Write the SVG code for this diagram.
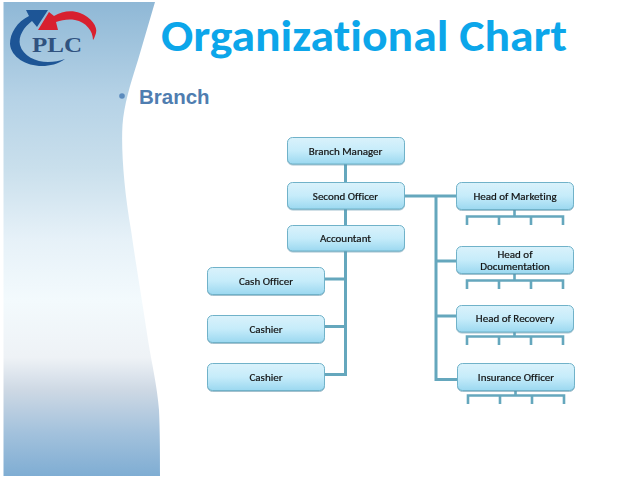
<svg xmlns="http://www.w3.org/2000/svg" width="638" height="479" viewBox="0 0 638 479">
<style>
.n{fill:url(#nf);stroke:#6fb2c9;stroke-width:1}
.t{font-family:"Carlito","Liberation Sans",sans-serif;font-size:11px;fill:#111;stroke:#111;stroke-width:.2;text-anchor:middle;font-variant-ligatures:none}
.c{fill:none;stroke:#65a7bd;stroke-width:3}
.s{fill:none;stroke:#65a7bd;stroke-width:2.6}
</style>
<defs>
<linearGradient id="nf" x1="0" y1="0" x2="0" y2="1"><stop offset="0" stop-color="#daf2fb"/><stop offset=".5" stop-color="#c6ecfa"/><stop offset="1" stop-color="#9bd8f0"/></linearGradient>
<linearGradient id="bg" x1="0" y1="0" x2="0" y2="1"><stop offset="0" stop-color="#8fb8d6"/><stop offset=".2" stop-color="#b5d2e6"/><stop offset=".35" stop-color="#c9dfec"/><stop offset=".5" stop-color="#e6f1f8"/><stop offset=".63" stop-color="#f3fafd"/><stop offset=".75" stop-color="#eef2f6"/><stop offset=".82" stop-color="#cdd8e4"/><stop offset=".91" stop-color="#a2c1dc"/><stop offset="1" stop-color="#7fadd3"/></linearGradient>
<filter id="sh" x="-5%" y="-10%" width="110%" height="125%"><feDropShadow dx="0" dy="1" stdDeviation=".7" flood-color="#5a8fa5" flood-opacity=".55"/></filter>
<filter id="soft" x="-2%" y="-1%" width="104%" height="102%"><feGaussianBlur stdDeviation=".6"/></filter>
</defs>
<path id="panel" filter="url(#soft)" d="M3.500 2H155L138 60C130 85 124 105 122.500 125C121 150 124 190 131 230C136 265 142 300 148 340C152 365 157 385 159 410C160 430 160 460 160 476H3.500Z" fill="url(#bg)"/>
<g id="logo">
<path d="M26 10H48L37 27L32 21C24 27 18 36 20 45C23 56 36 62 48 62C54 62 60 61 65 59C58 64 50 66 42 66C26 66 11 57 10 44C10 33 17 22 29 16Z" fill="#1d5596"/>
<path d="M38 30L49 12L54 16C62 11 72 10 80 13C91 17 98 27 96 33C95 36 94 39 93 40C93 31 86 22 75 20C68 19 62 20 56 22L58 30Z" fill="#d8202f"/>
<text x="32" y="52" font-family="'Liberation Serif',serif" font-weight="700" font-size="22" fill="#30527f" textLength="50" lengthAdjust="spacingAndGlyphs">PLC</text>
</g>
<text id="title" x="161" y="51" font-family="Carlito,'Open Sans','Liberation Sans',sans-serif" font-weight="700" font-size="45" fill="#0ca6ea" textLength="406" lengthAdjust="spacingAndGlyphs" style="font-variant-ligatures:none">Organizational Chart</text>
<circle id="bullet" cx="122" cy="96" r="2.800" fill="#5b8bbd"/>
<text id="subtitle" x="139" y="104" font-family="'Liberation Sans',sans-serif" font-weight="700" font-size="20.500" fill="#4f7db0">Branch</text>
<g id="connectors">
<path class="c" d="M345.500 164V374.500H325M345.500 279H325M345.500 326.500H325"/>
<path class="c" d="M404 196H457M436 196V379.500H457M436 261H457M436 316H457"/>
<path class="s" d="M514.500 209V216M467 225V216.500H563V225M499 216.500V225M531 216.500V225"/>
<path class="s" d="M514.500 273V280M467 289V280.500H563V289M499 280.500V289M531 280.500V289"/>
<path class="s" d="M514.500 332V336M467 345V336.500H563V345M499 336.500V345M531 336.500V345"/>
<path class="s" d="M515.500 390V395M468 404V395.500H564V404M500 395.500V404M532 395.500V404"/>
</g>
<g id="n1" filter="url(#sh)"><rect class="n" x="287.500" y="137.500" width="117" height="26.500" rx="5"/><text class="t" x="345.500" y="155">Branch Manager</text></g>
<g id="n2" filter="url(#sh)"><rect class="n" x="287.500" y="182.500" width="117" height="26.500" rx="5"/><text class="t" x="345.500" y="200">Second Officer</text></g>
<g id="n3" filter="url(#sh)"><rect class="n" x="287.500" y="225.500" width="117" height="25.500" rx="5"/><text class="t" x="345.500" y="242">Accountant</text></g>
<g id="n4" filter="url(#sh)"><rect class="n" x="207.500" y="267.500" width="117" height="27" rx="5"/><text class="t" x="266" y="285">Cash Officer</text></g>
<g id="n5" filter="url(#sh)"><rect class="n" x="207.500" y="315.500" width="117" height="27" rx="5"/><text class="t" x="266" y="333">Cashier</text></g>
<g id="n6" filter="url(#sh)"><rect class="n" x="207.500" y="363.500" width="117" height="27" rx="5"/><text class="t" x="266" y="381">Cashier</text></g>
<g id="n7" filter="url(#sh)"><rect class="n" x="456.500" y="182.500" width="117" height="27" rx="5"/><text class="t" x="515" y="200">Head of Marketing</text></g>
<g id="n8" filter="url(#sh)"><rect class="n" x="456.500" y="246.500" width="117" height="27" rx="5"/><text class="t" x="515" y="258">Head of</text><text class="t" x="515" y="270">Documentation</text></g>
<g id="n9" filter="url(#sh)"><rect class="n" x="456.500" y="305.500" width="117" height="26.500" rx="5"/><text class="t" x="515" y="322">Head of Recovery</text></g>
<g id="n10" filter="url(#sh)"><rect class="n" x="457.500" y="363.500" width="117" height="27" rx="5"/><text class="t" x="516" y="381">Insurance Officer</text></g>
</svg>
